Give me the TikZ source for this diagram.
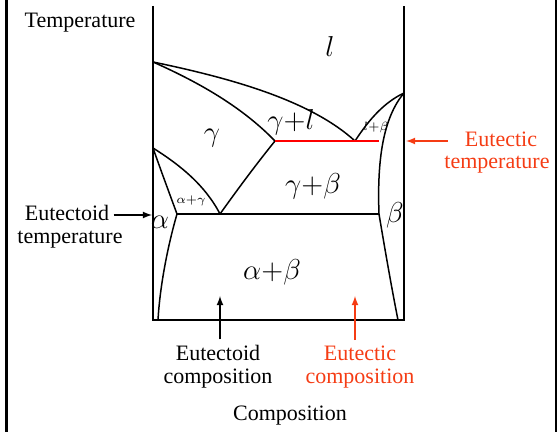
\documentclass[tikz,border=0pt]{standalone}
\usepackage{fontspec}
\setmainfont{Liberation Serif}
\definecolor{eutred}{RGB}{245,60,20}
\begin{document}
\begin{tikzpicture}[x=0.5pt, y=-0.5pt,
  font=\fontsize{11}{12.5}\selectfont,
  phase/.style={line width=0.75pt},
  axis/.style={line width=0.9pt},
  lbl/.style={inner sep=0pt, anchor=base},
  big/.style={inner sep=1pt, font=\fontsize{14}{15}\selectfont},
  small/.style={inner sep=0pt, font=\fontsize{6.5}{7}\selectfont},
  arrow/.style={-latex, line width=0.6pt}
]
\useasboundingbox (0,0) rectangle (557,432);
% slide frame
\draw[line width=1.5pt] (6.5,0) -- (6.5,432);
\draw[line width=1.5pt] (556,0) -- (556,432);

% axes
\draw[axis] (153,6) -- (153,320) -- (404,320) -- (404,6);

% key points
\coordinate (mA) at (153,62);
\coordinate (mB) at (404,93);
\coordinate (eut) at (355,141);
\coordinate (gmax) at (275,141);
\coordinate (bmax) at (379,141);
\coordinate (gA) at (153,148);
\coordinate (eoid) at (220,214);
\coordinate (amax) at (177,214);
\coordinate (bsol) at (379,214);

% phase boundaries
\draw[phase] (mA) .. controls (230,78) and (310,100) .. (eut);
\draw[phase] (mA) .. controls (205,85) and (245,110) .. (gmax);
\draw[phase] (eut) .. controls (370,118) and (385,102) .. (mB);
\draw[phase] (mB) .. controls (383,118) and (377,160) .. (bsol);
\draw[phase] (bsol) .. controls (385,250) and (392,290) .. (398,320);
\draw[phase] (gA) .. controls (180,165) and (205,185) .. (eoid);
\draw[phase] (eoid) .. controls (240,186) and (258,162) .. (gmax);
\draw[phase] (gA) .. controls (160,168) and (170,195) .. (amax);
\draw[phase] (amax) .. controls (168,245) and (160,285) .. (158,320);
\draw[phase] (amax) -- (bsol);
\draw[phase, red] (gmax) -- (bmax);

% phase labels
\node[big] (liq) at (330,47) {$l$};
\node[big] (gam) at (212,138) {$\gamma$};
\node[big] (gl) at (291,122) {$\gamma{+}l$};
\node[small] (lb) at (376,128) {$l{+}\beta$};
\node[big] (gb) at (313,186) {$\gamma{+}\beta$};
\node[small] (ag) at (191,201) {$\alpha{+}\gamma$};
\node[big] (alp) at (160,222) {$\alpha$};
\node[big] (bet) at (395,215) {$\beta$};
\node[big] (ab) at (272,272) {$\alpha{+}\beta$};

% axis and marker labels
\node[lbl] (temp) at (80,28) {Temperature};
\node[lbl] (eoidT) at (67,221) {Eutectoid};
\node[lbl] (eoidT2) at (70,244) {temperature};
\node[lbl, eutred] (eutT) at (501,147) {Eutectic};
\node[lbl, eutred] (eutT2) at (497,169) {temperature};
\node[lbl] (eoidC) at (218,361) {Eutectoid};
\node[lbl] (eoidC2) at (218,384) {composition};
\node[lbl, eutred] (eutC) at (360,361) {Eutectic};
\node[lbl, eutred] (eutC2) at (360,384) {composition};
\node[lbl] (comp) at (290,421) {Composition};

\coordinate (eoidTend) at (152,215);
\coordinate (eutTend) at (406,141);
\coordinate (eoidCend) at (220,296);
\coordinate (eutCend) at (355,296);
\draw[arrow] (eoidT.east |- eoidTend) ++(4,0) -- (eoidTend);
\draw[arrow, eutred] (eutT.west |- eutTend) ++(-17,0) -- (eutTend);
\draw[arrow] (eoidC.north -| eoidCend) ++(0,-6) -- (eoidCend);
\draw[arrow, eutred] (eutC.north -| eutCend) ++(0,-6) -- (eutCend);
\end{tikzpicture}
\end{document}
